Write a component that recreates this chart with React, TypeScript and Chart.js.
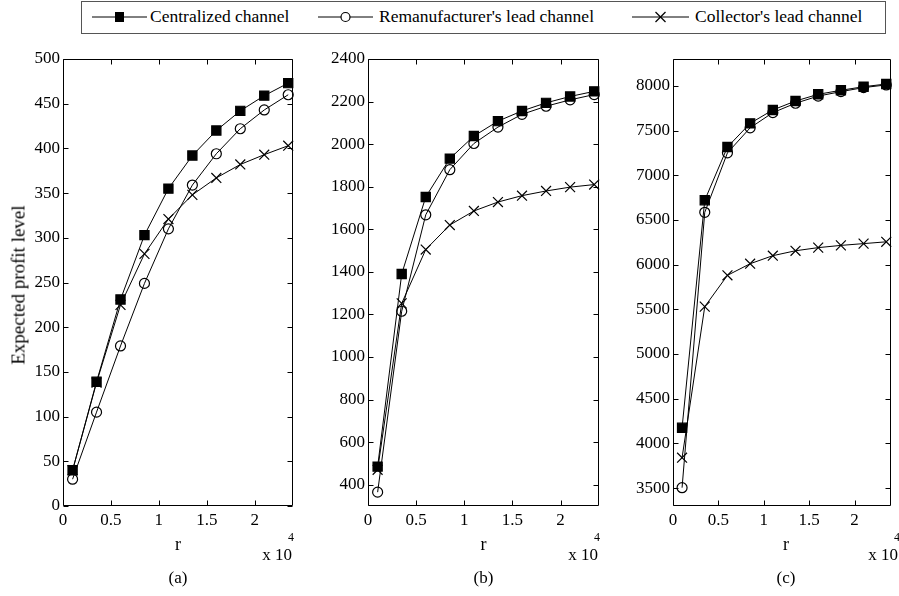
import React, { useEffect, useRef } from "react";
import { Chart, registerables } from "chart.js";

Chart.register(...registerables);

// ---- data ----
const rValues = [0.1, 0.35, 0.6, 0.85, 1.1, 1.35, 1.6, 1.85, 2.1, 2.35]; // x 10^4
const xTickValues = [0, 0.5, 1, 1.5, 2];

const seriesNames = ["Centralized channel", "Remanufacturer's lead channel", "Collector's lead channel"];

const centralizedA = [40, 139, 231, 303, 355, 392, 420, 442, 459, 473];
const remanufacturerA = [30, 105, 179, 249, 310, 359, 394, 422, 443, 460];
const collectorA = [40, 138, 225, 282, 321, 348, 367, 382, 393, 403];
const yTicksA = [0, 50, 100, 150, 200, 250, 300, 350, 400, 450, 500];

const centralizedB = [485, 1390, 1752, 1932, 2038, 2108, 2156, 2194, 2224, 2248];
const remanufacturerB = [365, 1215, 1668, 1880, 2003, 2080, 2140, 2178, 2208, 2233];
const collectorB = [470, 1252, 1505, 1620, 1686, 1728, 1758, 1780, 1798, 1810];
const yTicksB = [400, 600, 800, 1000, 1200, 1400, 1600, 1800, 2000, 2200, 2400];

const centralizedC = [4175, 6720, 7315, 7580, 7730, 7830, 7905, 7950, 7990, 8020];
const remanufacturerC = [3505, 6585, 7250, 7530, 7700, 7805, 7885, 7935, 7980, 8010];
const collectorC = [3840, 5530, 5880, 6010, 6100, 6155, 6190, 6215, 6235, 6255];
const yTicksC = [3500, 4000, 4500, 5000, 5500, 6000, 6500, 7000, 7500, 8000];

const captions = ["(a)", "(b)", "(c)"];

// ---- layout ----
const W = 899;
const H = 596;
const PLOT_TOP = 59;
const PLOT_BOTTOM = 506;
const FONT = '"Liberation Serif", "Times New Roman", serif';

type Panel = {
  left: number;
  right: number;
  yMin: number;
  yMax: number;
  yTicks: number[];
  series: number[][];
  caption: string;
};

const panels: Panel[] = [
  { left: 63, right: 293, yMin: 0, yMax: 500, yTicks: yTicksA, series: [centralizedA, remanufacturerA, collectorA], caption: captions[0] },
  { left: 368, right: 599, yMin: 300, yMax: 2400, yTicks: yTicksB, series: [centralizedB, remanufacturerB, collectorB], caption: captions[1] },
  { left: 673, right: 899, yMin: 3300, yMax: 8300, yTicks: yTicksC, series: [centralizedC, remanufacturerC, collectorC], caption: captions[2] },
];

const boxPlugin = {
  id: "matlabBox",
  beforeDatasetsDraw(chart: any) {
    const { ctx, chartArea: a, scales } = chart;
    const xs = scales.x;
    const ys = scales.y;
    const tl = 5;
    ctx.save();
    ctx.strokeStyle = "#000";
    ctx.lineWidth = 1;
    const L = Math.round(a.left) + 0.5;
    const R = Math.round(a.right) - 0.5;
    const T = Math.round(a.top) + 0.5;
    const B = Math.round(a.bottom) - 0.5;
    ctx.beginPath();
    ctx.rect(L, T, R - L, B - T);
    xs.ticks.forEach((t: any) => {
      const px = Math.round(xs.getPixelForValue(t.value)) + 0.5;
      ctx.moveTo(px, B);
      ctx.lineTo(px, B - tl);
      ctx.moveTo(px, T);
      ctx.lineTo(px, T + tl);
    });
    ys.ticks.forEach((t: any) => {
      const py = Math.round(ys.getPixelForValue(t.value)) + 0.5;
      ctx.moveTo(L, py);
      ctx.lineTo(L + tl, py);
      ctx.moveTo(R, py);
      ctx.lineTo(R - tl, py);
    });
    ctx.stroke();
    ctx.restore();
  },
};

const Y_AXIS_W = 60;
const X_AXIS_H = 30;

function PanelChart({ panel }: { panel: Panel }) {
  const ref = useRef<HTMLCanvasElement | null>(null);
  useEffect(() => {
    if (!ref.current) return;
    const styles = [
      { pointStyle: "rect", pointRadius: 6.5, bg: "#000" },
      { pointStyle: "circle", pointRadius: 5, bg: "rgba(0,0,0,0)" },
      { pointStyle: "crossRot", pointRadius: 7, bg: "#000" },
    ];
    const datasets = panel.series.map((vals, i) => ({
      label: seriesNames[i],
      data: rValues.map((x, j) => ({ x, y: vals[j] })),
      borderColor: "#000",
      borderWidth: 1,
      backgroundColor: styles[i].bg,
      pointStyle: styles[i].pointStyle,
      pointRadius: styles[i].pointRadius,
      pointBackgroundColor: styles[i].bg,
      pointBorderColor: "#000",
      pointBorderWidth: 1.2,
      tension: 0,
      fill: false,
      clip: 10,
    }));
    const chart = new Chart(ref.current, {
      type: "line",
      data: { datasets },
      plugins: [boxPlugin],
      options: {
        responsive: false,
        animation: false,
        events: [],
        layout: {
          padding: {
            left: panel.left - Y_AXIS_W,
            right: W - panel.right,
            top: PLOT_TOP,
            bottom: H - PLOT_BOTTOM - X_AXIS_H,
          },
        },
        plugins: { legend: { display: false }, tooltip: { enabled: false } },
        scales: {
          x: {
            type: "linear",
            min: 0,
            max: 2.4,
            grid: { display: false, drawTicks: false },
            border: { display: false },
            afterBuildTicks: (s: any) => {
              s.ticks = xTickValues.map((v) => ({ value: v }));
            },
            afterFit: (s: any) => {
              s.height = X_AXIS_H;
            },
            ticks: {
              color: "#000",
              padding: 4,
              maxRotation: 0,
              autoSkip: false,
              font: { family: FONT, size: 17 },
              callback: (v: any) => String(v),
            },
          },
          y: {
            type: "linear",
            min: panel.yMin,
            max: panel.yMax,
            grid: { display: false, drawTicks: false },
            border: { display: false },
            afterBuildTicks: (s: any) => {
              s.ticks = panel.yTicks.map((v) => ({ value: v }));
            },
            afterFit: (s: any) => {
              s.width = Y_AXIS_W;
            },
            ticks: {
              color: "#000",
              padding: 3,
              autoSkip: false,
              font: { family: FONT, size: 17 },
              callback: (v: any) => String(v),
            },
          },
        },
      } as any,
    });
    return () => chart.destroy();
  }, [panel]);
  return (
    <canvas
      ref={ref}
      width={W}
      height={H}
      style={{ position: "absolute", left: 0, top: 0, width: W, height: H, display: "block" }}
    />
  );
}

function Txt({ x, y, size, children, anchor = "center", rotate = false }: any) {
  const tx = anchor === "center" ? "-50%" : anchor === "right" ? "-100%" : "0";
  return (
    <div
      style={{
        position: "absolute",
        left: x,
        top: y,
        transform: `translate(${tx}, -50%)${rotate ? " rotate(-90deg)" : ""}`,
        transformOrigin: rotate ? "50% 50%" : undefined,
        fontFamily: FONT,
        fontSize: size,
        lineHeight: 1,
        whiteSpace: "nowrap",
        color: "#000",
      }}
    >
      {children}
    </div>
  );
}

function LegendSample({ x1, x2, kind }: { x1: number; x2: number; kind: number }) {
  const cx = (x1 + x2) / 2;
  const cy = 17;
  return (
    <svg style={{ position: "absolute", left: 0, top: 0 }} width={W} height={40}>
      <line x1={x1} y1={cy} x2={x2} y2={cy} stroke="#000" strokeWidth={1} />
      {kind === 0 && <rect x={cx - 4.5} y={cy - 5} width={9} height={10} fill="#000" />}
      {kind === 1 && <circle cx={cx} cy={cy} r={4.5} fill="#fff" stroke="#000" strokeWidth={1.2} />}
      {kind === 2 && (
        <g stroke="#000" strokeWidth={1.2}>
          <line x1={cx - 5} y1={cy - 5} x2={cx + 5} y2={cy + 5} />
          <line x1={cx - 5} y1={cy + 5} x2={cx + 5} y2={cy - 5} />
        </g>
      )}
    </svg>
  );
}

export default function App() {
  const legendItems = [
    { x1: 92, x2: 147, tx: 150 },
    { x1: 318, x2: 373, tx: 379 },
    { x1: 632, x2: 689, tx: 695 },
  ];
  return (
    <div
      style={{
        position: "fixed",
        left: 0,
        top: 0,
        width: W,
        height: H,
        background: "#fff",
        overflow: "hidden",
      }}
    >
      {panels.map((p, i) => (
        <PanelChart key={i} panel={p} />
      ))}
      {/* legend */}
      <div
        style={{
          position: "absolute",
          left: 81,
          top: 1,
          width: 803,
          height: 31,
          border: "1.5px solid #555",
          background: "#fff",
        }}
      />
      {legendItems.map((it, i) => (
        <React.Fragment key={i}>
          <LegendSample x1={it.x1} x2={it.x2} kind={i} />
          <Txt x={it.tx} y={17} size={17.5} anchor="left">
            {seriesNames[i]}
          </Txt>
        </React.Fragment>
      ))}
      {/* y label */}
      <Txt x={18} y={285} size={19} rotate>
        Expected profit level
      </Txt>
      {panels.map((p, i) => {
        const cx = (p.left + p.right) / 2;
        return (
          <React.Fragment key={"l" + i}>
            <Txt x={cx} y={544} size={18}>r</Txt>
            <Txt x={p.right - 1} y={554} size={17} anchor="right">x 10</Txt>
            <Txt x={p.right - 5} y={537} size={12} anchor="left">4</Txt>
            <Txt x={cx} y={577} size={17}>{p.caption}</Txt>
          </React.Fragment>
        );
      })}
    </div>
  );
}
